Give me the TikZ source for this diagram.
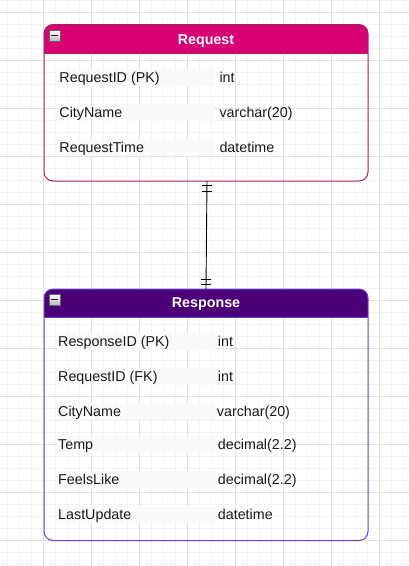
\documentclass[tikz,border=0pt]{standalone}
\usepackage{fontspec}
\setmainfont{Liberation Sans}
\definecolor{reqhead}{HTML}{D80073}
\definecolor{reqborder}{HTML}{B0205E}
\definecolor{resphead}{HTML}{4C0077}
\definecolor{respborder}{HTML}{6C3BE0}
\definecolor{gridminor}{HTML}{F4F4F4}
\definecolor{gridmajor}{HTML}{E2E2E2}
\definecolor{rowfill}{HTML}{FAFAFA}
\tikzset{
  tablebox/.style={rectangle, minimum width=324pt, inner sep=0pt, outer sep=0pt},
  title/.style={anchor=base, inner sep=0pt, text=white, font=\fontsize{14.3}{16}\selectfont\bfseries},
  field/.style={anchor=base west, inner sep=0pt, font=\fontsize{14.3}{16}\selectfont, text=black!90},
  rowbg/.style={fill=rowfill, draw=none},
  icon/.style={draw=gray!80!black, line width=0.6pt, top color=white, bottom color=gray!55},
  conn/.style={draw=black, line width=0.9pt},
}
\begin{document}
\begin{tikzpicture}[x=1pt,y=-1pt]
\useasboundingbox (0,0) rectangle (409,566);
\fill[white] (0,0) rectangle (409,566);
% grid
\foreach \gx in {7,19,...,403} \draw[gridminor, line width=0.8pt] (\gx,0) -- (\gx,566);
\foreach \gy in {0,12,...,566} \draw[gridminor, line width=0.8pt] (0,\gy) -- (409,\gy);
\foreach \gx in {43,91,...,403} \draw[gridmajor, line width=0.8pt] (\gx,0) -- (\gx,566);
\foreach \gy in {12,60,...,566} \draw[gridmajor, line width=0.8pt] (0,\gy) -- (409,\gy);

% ---------- Request ----------
\node[tablebox, minimum height=156.5pt] (req) at (206,102.75) {};
\begin{scope}
  \clip[rounded corners=9pt] (req.south west) rectangle (req.north east);
  \fill[reqhead] (req.north west) rectangle ([yshift=-28.5pt]req.north east);
\end{scope}
\draw[reqborder, line width=0.9pt] ([yshift=-28.5pt]req.north west) -- ([yshift=-28.5pt]req.north east);
\draw[reqborder, line width=1pt, rounded corners=9pt] (req.south west) rectangle (req.north east);
\draw[icon] (49,30) rectangle (60,41);
\draw[gray!30!black, line width=1.2pt] (51,35.5) -- (58,35.5);
\node[title] (reqtitle) at (206,44.5) {Request};

\fill[rowbg] (57,69) rectangle (214,86);
\fill[rowbg] (57,104) rectangle (214,121);
\fill[rowbg] (57,139) rectangle (214,156);
\node[field] (r1n) at (59.3,82) {RequestID (PK)};
\node[field] (r1t) at (219.3,82) {int};
\node[field] (r2n) at (59.3,117) {CityName};
\node[field] (r2t) at (219.3,117) {varchar(20)};
\node[field] (r3n) at (59.3,152) {RequestTime};
\node[field] (r3t) at (219.3,152) {datetime};

% ---------- Response ----------
\node[tablebox, minimum height=251.5pt] (resp) at (206,414.75) {};
\begin{scope}
  \clip[rounded corners=9pt] (resp.south west) rectangle (resp.north east);
  \fill[resphead] (resp.north west) rectangle ([yshift=-28pt]resp.north east);
\end{scope}
\draw[respborder, line width=0.9pt] ([yshift=-28pt]resp.north west) -- ([yshift=-28pt]resp.north east);
\draw[respborder, line width=1pt, rounded corners=9pt] (resp.south west) rectangle (resp.north east);
\draw[icon] (49,294) rectangle (60,305);
\draw[gray!30!black, line width=1.2pt] (51,299.5) -- (58,299.5);
\node[title] (resptitle) at (206,307.5) {Response};

\fill[rowbg] (57,333) rectangle (216,350);
\fill[rowbg] (57,368) rectangle (216,385);
\fill[rowbg] (57,403) rectangle (216,420);
\fill[rowbg] (57,436) rectangle (216,453);
\fill[rowbg] (57,471) rectangle (216,488);
\fill[rowbg] (57,506) rectangle (216,523);
\node[field] (s1n) at (58,346) {ResponseID (PK)};
\node[field] (s1t) at (217.7,346) {int};
\node[field] (s2n) at (58,381) {RequestID (FK)};
\node[field] (s2t) at (217.7,381) {int};
\node[field] (s3n) at (58,416) {CityName};
\node[field] (s3t) at (216.7,416) {varchar(20)};
\node[field] (s4n) at (58,449) {Temp};
\node[field] (s4t) at (217.7,449) {decimal(2.2)};
\node[field] (s5n) at (58,484) {FeelsLike};
\node[field] (s5t) at (217.7,484) {decimal(2.2)};
\node[field] (s6n) at (58,519) {LastUpdate};
\node[field] (s6t) at (217.7,519) {datetime};

% ---------- connector ----------
\coordinate (ctop) at ([xshift=1pt]req.south);
\coordinate (cbot) at (resp.north);
\draw[conn] (ctop) -- (cbot);
\draw[conn] ([yshift=-4.5pt]ctop) ++(-5,0) -- ++(10,0);
\draw[conn] ([yshift=-10pt]ctop) ++(-5,0) -- ++(10,0);
\draw[conn] ([yshift=10pt]cbot) ++(-5,0) -- ++(10,0);
\draw[conn] ([yshift=5pt]cbot) ++(-5,0) -- ++(10,0);
\end{tikzpicture}
\end{document}
